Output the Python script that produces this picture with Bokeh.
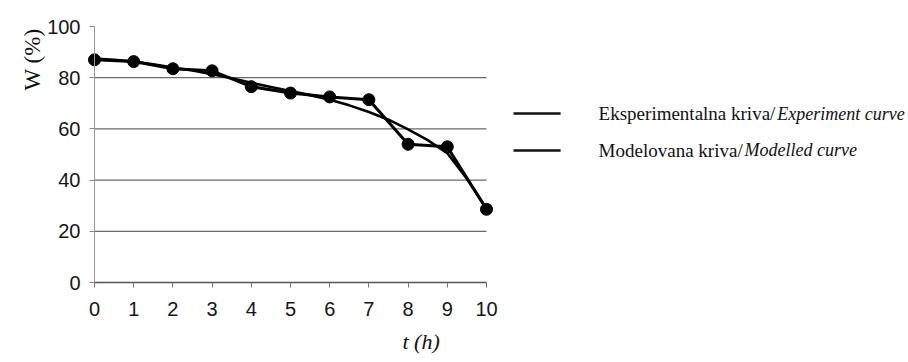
from bokeh.plotting import figure
from bokeh.models import LinearAxis, FixedTicker, Range1d, Title
from bokeh.core.properties import value
from bokeh.embed import file_html
from bokeh.resources import INLINE

# ---- data ----
t_exp = [0, 1, 2, 3, 4, 5, 6, 7, 8, 9, 10]
w_exp = [87, 86.3, 83.5, 82.7, 76.5, 74, 72.5, 71.4, 54, 53, 28.6]
t_mod = [0, 0.5, 1, 1.5, 2, 2.5, 3, 3.5, 4, 4.5, 5, 5.5, 6, 6.5, 7, 7.5, 8, 8.5, 9, 9.5, 10]
w_mod = [87.5, 87, 86.3, 85.2, 84, 82.8, 81.4, 79.8, 78, 76.4, 74.8, 73.2, 71.4, 69.2,
         66.6, 63.6, 59.8, 55.6, 50.5, 40.5, 29]
x_ticks = [0, 1, 2, 3, 4, 5, 6, 7, 8, 9, 10]
y_ticks = [0, 20, 40, 60, 80, 100]
grid_vals = [20, 40, 60, 80]
legend_names = ["Eksperimentalna kriva/", "Modelovana kriva/"]
legend_italic = ["Experiment curve", "Modelled curve"]

SERIF = "Liberation Serif"
SANS = "Liberation Sans"

p = figure(width=908, height=362, output_backend="svg", toolbar_location=None,
           x_axis_type=None, y_axis_type=None,
           x_range=Range1d(-0.204, 20.765), y_range=Range1d(-3.906, 108.6),
           min_border_left=86, min_border_right=0, min_border_top=4, min_border_bottom=70)
p.outline_line_color = None
p.xgrid.visible = False
p.ygrid.visible = False

# grid lines (bounded to the data span)
p.segment(x0=[x_ticks[0]] * len(grid_vals), x1=[x_ticks[-1]] * len(grid_vals),
          y0=grid_vals, y1=grid_vals, line_color="#6a6a6a", line_width=1.3)

# tick-label axes (at the frame edges)
xlab = LinearAxis(ticker=FixedTicker(ticks=x_ticks), bounds=(0, 10))
xlab.axis_line_color = None
xlab.major_tick_line_color = None
xlab.minor_tick_line_color = None
xlab.major_tick_in = 0
xlab.major_tick_out = 0
xlab.major_label_text_font = SANS
xlab.major_label_text_font_size = "20px"
xlab.major_label_text_color = "#151515"
xlab.major_label_standoff = 9
p.add_layout(xlab, "below")

ylab = LinearAxis(ticker=FixedTicker(ticks=y_ticks), bounds=(0, 100))
ylab.axis_line_color = None
ylab.major_tick_line_color = None
ylab.minor_tick_line_color = None
ylab.major_tick_in = 0
ylab.major_tick_out = 0
ylab.major_label_text_font = SANS
ylab.major_label_text_font_size = "20px"
ylab.major_label_text_color = "#151515"
ylab.major_label_standoff = 6
p.add_layout(ylab, "left")

# axis lines + tick marks at the data origin
xax = LinearAxis(ticker=FixedTicker(ticks=x_ticks), bounds=(0, 10), fixed_location=0)
xax.axis_line_color = "#555555"
xax.axis_line_width = 1.6
xax.major_tick_line_color = "#777777"
xax.major_tick_in = 0
xax.major_tick_out = 5
xax.minor_tick_line_color = None
xax.major_label_standoff = 0
xax.major_label_text_font_size = "1px"
xax.major_label_text_color = None
p.add_layout(xax, "below")

yax = LinearAxis(ticker=FixedTicker(ticks=y_ticks), bounds=(0, 100), fixed_location=0)
yax.axis_line_color = "#9a9a9a"
yax.axis_line_width = 1
yax.major_tick_line_color = "#888888"
yax.major_tick_in = 0
yax.major_tick_out = 5
yax.minor_tick_line_color = None
yax.major_label_standoff = 0
yax.major_label_text_font_size = "1px"
yax.major_label_text_color = None
p.add_layout(yax, "left")

# axis titles
p.add_layout(Title(text="W (%)", align="right", offset=24, standoff=0,
                   text_font="Times New Roman", text_font_style="normal",
                   text_font_size="23px", text_color="#111111"), "left")
p.add_layout(Title(text="t (h)", align="left", offset=316, standoff=17,
                   text_font="serif", text_font_style="italic",
                   text_font_size="22px", text_color="#111111"), "below")

# curves
p.line(t_mod, w_mod, line_color="black", line_width=2.6)
p.line(t_exp, w_exp, line_color="black", line_width=3)
p.scatter(t_exp, w_exp, size=12, color="black")

# legend (drawn in data space right of the plot)
leg_y = [66.0, 51.6]
p.segment(x0=[10.69, 10.69], x1=[11.89, 11.89], y0=leg_y, y1=leg_y,
          line_color="#111111", line_width=2.5)
p.text(x=[12.86, 12.86], y=leg_y, text=legend_names, text_font=value(SERIF),
       text_font_size="19px", text_baseline="middle", text_color="#111111")
p.text(x=[17.42, 16.58], y=leg_y, text=legend_italic, text_font=value(SERIF),
       text_font_style="italic", text_font_size="18px", text_baseline="middle",
       text_color="#111111")

open("out.html", "w").write(file_html(p, INLINE))
